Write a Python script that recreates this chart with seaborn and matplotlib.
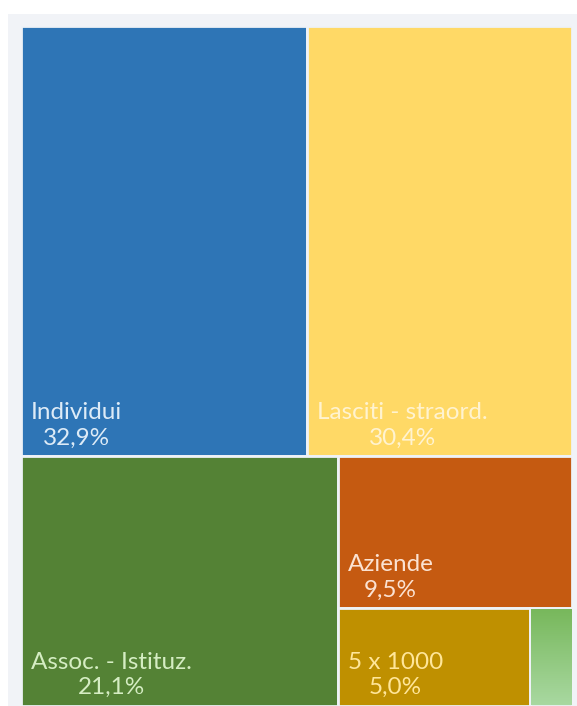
import matplotlib
matplotlib.use('Agg')
import matplotlib.pyplot as plt
from matplotlib.patches import Rectangle
import numpy as np
import seaborn as sns

# Dati del treemap (quote % per fonte)
categorie = ["Individui", "Lasciti - straord.", "Assoc. - Istituz.", "Aziende", "5 x 1000", "Altro"]
valori = [32.9, 30.4, 21.1, 9.5, 5.0, 1.1]
etichette = ["32,9%", "30,4%", "21,1%", "9,5%", "5,0%", ""]
colori = ["#2E75B6", "#FFD966", "#548235", "#C55A11", "#BF9000", "#9CCB80"]
colori_testo = ["#DDEBF7", "#FFF3D0", "#D5EDC3", "#FBE2D2", "#FFE699", "#FFFFFF"]


def worst(row, lato):
    s = sum(row)
    return max(max(lato * lato * r / (s * s), (s * s) / (lato * lato * r)) for r in row)


def layout(aree, x, y, w, h):
    # squarified treemap semplice
    rects = []
    aree = list(aree)
    while aree:
        lato = min(w, h)
        row = [aree.pop(0)]
        while aree and worst(row + [aree[0]], lato) <= worst(row, lato):
            row.append(aree.pop(0))
        s = sum(row)
        if w <= h:
            # riga lungo la larghezza, in alto
            rh = s / w
            cx = x
            for a in row:
                rw = a / rh
                rects.append((cx, y + h - rh, rw, rh))
                cx += rw
            h -= rh
        else:
            # colonna lungo l'altezza, a sinistra
            rw = s / h
            cy = y + h
            for a in row:
                ch = a / rw
                rects.append((x, cy - ch, rw, ch))
                cy -= ch
            x += rw
            w -= rw
    return rects


sns.set_theme(style="white")
plt.rcParams['font.family'] = ['Lato', 'DejaVu Sans']

W, H = 551.0, 680.0
tot = sum(valori)
aree = [v / tot * W * H for v in valori]
rects = layout(aree, 0, 0, W, H)

fig = plt.figure(figsize=(5.77, 7.06), dpi=100)
fig.patch.set_facecolor("white")

# pannello grigio chiaro di sfondo
bg = fig.add_axes([8 / 577, 0, 569 / 577, 692 / 706], zorder=0)
bg.set_facecolor("#F1F3F7")
bg.set_xticks([])
bg.set_yticks([])
for sp in bg.spines.values():
    sp.set_visible(False)

ax = fig.add_axes([21 / 577, 0, W / 577, H / 706], zorder=1)
ax.set_xlim(0, W)
ax.set_ylim(0, H)
ax.axis("off")

for (x, y, w, h), col, cat, lab, tc in zip(rects, colori, categorie, etichette, colori_testo):
    p = Rectangle((x, y), w, h, facecolor=col, edgecolor="#EEF2F7", linewidth=2, zorder=1)
    ax.add_patch(p)
    if not lab:
        # leggera sfumatura sull'ultimo riquadro
        cmap = sns.blend_palette(["#A8D8A0", "#78B85C"], as_cmap=True)
        im = ax.imshow(np.linspace(0, 1, 50).reshape(-1, 1), cmap=cmap, aspect="auto",
                       extent=(x + 1, x + w - 1, y + 1, y + h - 1), origin="lower", zorder=1.5)
        continue
    ax.text(x + 10, y + 8, f"{cat}\n{lab}", ha="left", va="bottom", multialignment="center",
            color=tc, fontsize=17.5, linespacing=1.25, zorder=3)

ax.set_xlim(0, W)
ax.set_ylim(0, H)

fig.savefig("out.png", dpi=100)
plt.close(fig)
